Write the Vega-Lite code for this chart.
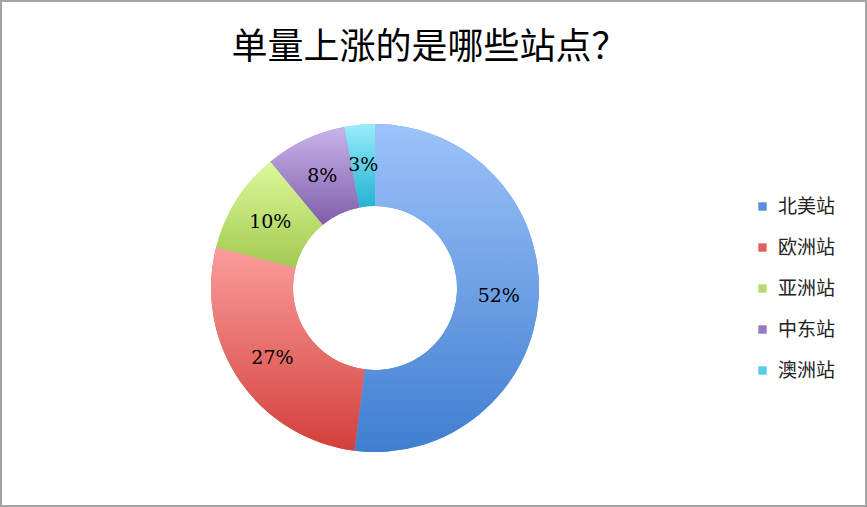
{
  "$schema": "https://vega.github.io/schema/vega-lite/v6.json",
  "width": 865,
  "height": 505,
  "padding": 1,
  "autosize": "none",
  "background": "white",
  "view": {"stroke": "#A3A3A3", "strokeWidth": 2, "fill": "white"},
  "title": {
    "text": "单量上涨的是哪些站点？",
    "font": "Noto Sans CJK SC",
    "fontSize": 36,
    "fontWeight": "normal",
    "color": "#000000",
    "anchor": "middle",
    "dx": -4,
    "offset": -66
  },
  "data": {
    "values": [
      {"site": "北美站", "rank": 1, "share": 0.52},
      {"site": "欧洲站", "rank": 2, "share": 0.27},
      {"site": "亚洲站", "rank": 3, "share": 0.10},
      {"site": "中东站", "rank": 4, "share": 0.08},
      {"site": "澳洲站", "rank": 5, "share": 0.03}
    ]
  },
  "layer": [
    {
      "mark": {"type": "arc", "x": 374, "y": 287, "outerRadius": 164, "innerRadius": 82},
      "encoding": {
        "theta": {"field": "share", "type": "quantitative", "stack": true},
        "order": {"field": "rank", "type": "quantitative"},
        "fill": {
          "field": "site",
          "type": "nominal",
          "scale": {
            "domain": ["北美站", "欧洲站", "亚洲站", "中东站", "澳洲站"],
            "range": ["#5A8FDD", "#E2605C", "#B7DA6E", "#9778C4", "#55CDE6"]
          },
          "legend": {
            "orient": "none",
            "legendX": 752,
            "legendY": 196,
            "title": null,
            "symbolType": "square",
            "symbolSize": 70,
            "symbolStrokeWidth": 0,
            "labelFont": "Noto Sans CJK SC",
            "labelFontSize": 19,
            "labelColor": "#222222",
            "labelOffset": 6,
            "rowPadding": 21
          }
        }
      }
    },
    {
      "mark": {"type": "arc", "x": 374, "y": 287, "outerRadius": 164, "innerRadius": 82},
      "encoding": {
        "theta": {"field": "share", "type": "quantitative", "stack": true},
        "order": {"field": "rank", "type": "quantitative"},
        "fill": {
          "condition": [
            {"test": "datum.site === '北美站'", "value": {"gradient": "linear", "x1": 0, "y1": 0, "x2": 0, "y2": 1, "stops": [{"offset": 0, "color": "#9DC3FA"}, {"offset": 1, "color": "#3F7ED0"}]}},
            {"test": "datum.site === '欧洲站'", "value": {"gradient": "linear", "x1": 0, "y1": 0, "x2": 0, "y2": 1, "stops": [{"offset": 0, "color": "#FA9E9C"}, {"offset": 1, "color": "#D33F3A"}]}},
            {"test": "datum.site === '亚洲站'", "value": {"gradient": "linear", "x1": 0, "y1": 0, "x2": 0, "y2": 1, "stops": [{"offset": 0, "color": "#DDF99B"}, {"offset": 1, "color": "#A2CA50"}]}},
            {"test": "datum.site === '中东站'", "value": {"gradient": "linear", "x1": 0, "y1": 0, "x2": 0, "y2": 1, "stops": [{"offset": 0, "color": "#C9B3EA"}, {"offset": 1, "color": "#7F5EAA"}]}},
            {"test": "datum.site === '澳洲站'", "value": {"gradient": "linear", "x1": 0, "y1": 0, "x2": 0, "y2": 1, "stops": [{"offset": 0, "color": "#98EEFB"}, {"offset": 1, "color": "#22B3D2"}]}}
          ],
          "value": "#CCCCCC"
        }
      }
    },
    {
      "mark": {"type": "text", "x": 374, "y": 287, "radius": 124, "font": "DejaVu Serif", "fontSize": 19, "color": "#000000"},
      "encoding": {
        "theta": {"field": "share", "type": "quantitative", "stack": true},
        "order": {"field": "rank", "type": "quantitative"},
        "text": {"field": "share", "type": "quantitative", "format": ".0%"}
      }
    }
  ]
}
